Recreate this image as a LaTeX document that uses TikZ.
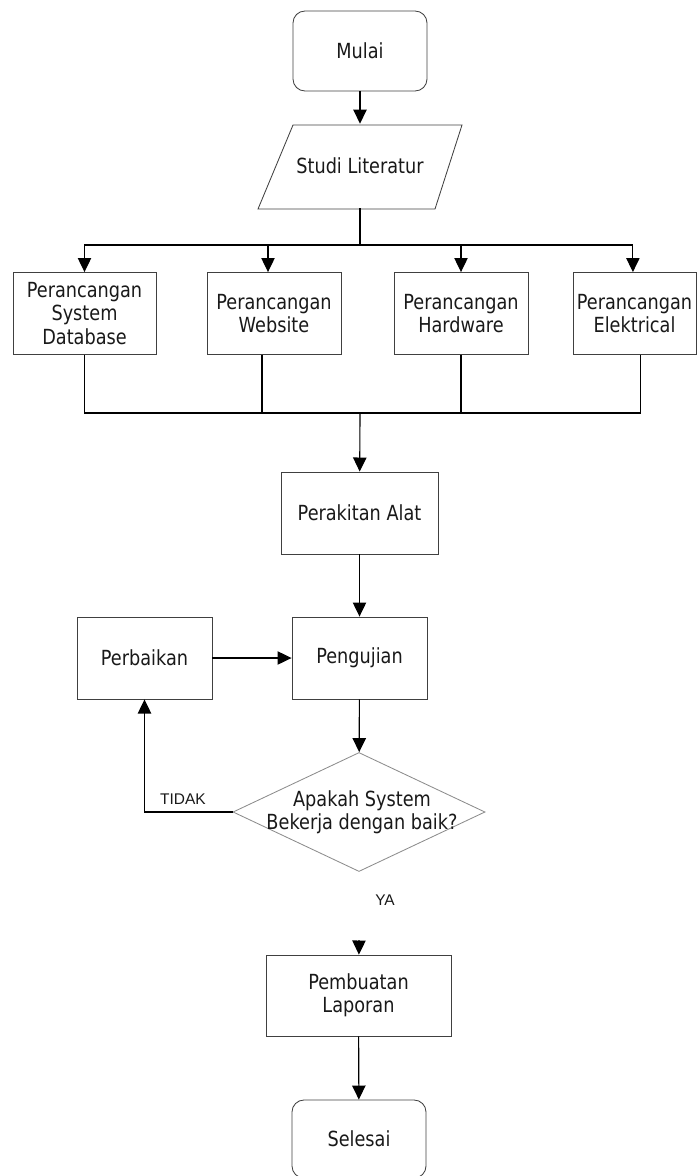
\documentclass[tikz,border=0pt]{standalone}
\usepackage{fontspec}
\setmainfont{DejaVu Sans}[FakeStretch=0.85]
\newfontfamily\ketfont{Liberation Sans}
\usetikzlibrary{shapes,arrows.meta}

\begin{document}
\begin{tikzpicture}[x=0.025cm,y=-0.025cm,
     proses/.style={draw=black!75,rectangle,line width=0.6pt,text=black!90,
        font=\fontsize{14.8}{16.5}\selectfont,align=center,inner sep=0pt},
     terminal/.style={proses,rounded corners=0.3cm},
     teks/.style={text=black!90,font=\fontsize{14.8}{16.5}\selectfont,align=center,inner sep=0pt},
     cabang/.style={draw=black!45,diamond,line width=0.6pt,inner sep=0pt},
     ket/.style={text=black!90,font=\ketfont\fontsize{11}{13}\selectfont},
     garis/.style={line width=0.8pt},
     panah/.style={garis,-{Triangle[length=10pt,width=9.5pt]}}
     ]
   \useasboundingbox (0,0) rectangle (697,1176);

   \node[terminal,minimum width=3.35cm,minimum height=2cm] (mulai) at (360,51) {Mulai};

   % parallelogram drawn by hand, node only carries the text
   \node[teks,minimum height=2.1cm] (studi) at (360,166) {Studi Literatur};
   \draw[draw=black!75,line width=0.6pt] (293,125) -- (462,125) -- (435,209) -- (258,209) -- cycle;

   % the four design boxes; \ka/\ki shift the arrow in and the line out (cm)
   \foreach \nama/\x/\lebar/\ka/\ki/\isi in
      {db/84.5/3.575/0/0/{Perancangan\\System\\Database},
       web/274/3.35/-0.15/-0.3/{Perancangan\\Website},
       hw/461/3.35/0/0/{Perancangan\\Hardware},
       el/634.5/3.075/-0.04/0.14/{Perancangan\\Elektrical}}
   {
     \node[proses,minimum width=\lebar cm,minimum height=2.05cm] (\nama) at (\x,313.5) {\isi};
   }

   \node[proses,minimum width=3.925cm,minimum height=2.05cm] (rakit) at (359.5,513) {Perakitan Alat};
   \node[proses,minimum width=3.375cm,minimum height=2.05cm] (uji) at (359.5,658) {Pengujian};
   \node[proses,minimum width=3.375cm,minimum height=2.05cm] (perbaikan) at (144.5,658) {Perbaikan};
   \node[cabang,minimum width=6.3cm,minimum height=2.975cm] (cek) at (359,812) {};
   \node[teks] (cekteks) at (362,812) {Apakah System\\Bekerja dengan baik?};
   \node[proses,minimum width=4.625cm,minimum height=2.025cm] (lapor) at (358.5,995.5) {Pembuatan\\Laporan};
   \node[terminal,minimum width=3.35cm,minimum height=1.95cm] (selesai) at (359,1139) {Selesai};

   \node[ket] (tidak) at (183,799) {TIDAK};
   \node[ket] (ya) at (385,900) {YA};

   \coordinate (pisah) at (360,245);
   \coordinate (gabung) at (360,413);
   \coordinate (masuk) at (359,940);

   \draw[panah] (mulai) -- (studi);
   \draw[garis] (studi.south) -- (pisah);
   \foreach \nama/\ka/\ki in {db/0/0,web/-0.15/-0.3,hw/0/0,el/-0.04/0.14}
   {
     \draw[panah] (pisah) -| ([xshift=\ka cm]\nama.north);
     \draw[garis] ([xshift=\ki cm]\nama.south) |- (gabung);
   }
   \draw[panah] (gabung) -- (rakit);
   \draw[panah] (rakit) -- (uji);
   \draw[panah] (perbaikan) -- (uji);
   \draw[panah] (uji) -- (cek);
   \draw[panah] (cek.west) -| (perbaikan.south);
   \draw[panah] (masuk) -- (lapor);
   \draw[panah] (lapor) -- (selesai);
\end{tikzpicture}
\end{document}
